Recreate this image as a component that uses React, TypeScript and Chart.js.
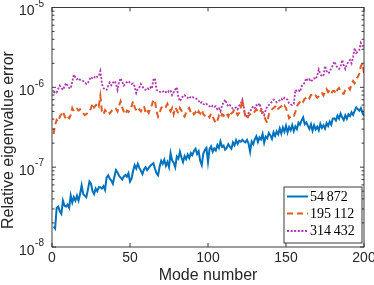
import React, { useEffect, useRef } from "react";
import { Chart, registerables } from "chart.js";

Chart.register(...registerables);

// Mode numbers (x categories)
const modeNumbers: number[] = Array.from({ length: 200 }, (_, i) => i + 1);

// Series: relative eigenvalue error
const err54872: number[] = [
  1.8e-8, 1.7e-8, 3.1e-8, 3.2e-8, 2.8e-8, 2.6e-8, 3.8e-8, 3.3e-8, 3.2e-8, 3.4e-8,
  3.1e-8, 4.4e-8, 3.6e-8, 4.2e-8, 3.8e-8, 4.4e-8, 3.8e-8, 4.6e-8, 5.9e-8, 4.6e-8,
  4.4e-8, 4.2e-8, 5.2e-8, 6.6e-8, 6.2e-8, 5.0e-8, 4.6e-8, 5.4e-8, 5.0e-8, 5.6e-8,
  5.6e-8, 5.4e-8, 5.8e-8, 5.2e-8, 7.4e-8, 7.9e-8, 7.2e-8, 6.8e-8, 6.2e-8, 7.6e-8,
  9.2e-8, 8.6e-8, 7.8e-8, 7.4e-8, 7.0e-8, 7.6e-8, 8.0e-8, 7.6e-8, 8.4e-8, 6.6e-8,
  7.2e-8, 9.0e-8, 10.6e-8, 9.6e-8, 11.0e-8, 9.8e-8, 9.0e-8, 8.2e-8, 9.4e-8, 10.0e-8,
  9.2e-8, 9.8e-8, 10.4e-8, 10.8e-8, 11.2e-8, 9.6e-8, 8.4e-8, 7.9e-8, 10.2e-8, 12.0e-8,
  11.0e-8, 12.4e-8, 10.4e-8, 11.6e-8, 10.0e-8, 15.0e-8, 12.2e-8, 11.4e-8, 10.0e-8, 13.6e-8,
  12.8e-8, 15.6e-8, 13.2e-8, 11.6e-8, 13.8e-8, 12.6e-8, 14.4e-8, 13.0e-8, 15.0e-8, 14.2e-8,
  16.0e-8, 17.0e-8, 14.6e-8, 15.8e-8, 12.0e-8, 10.6e-8, 14.8e-8, 16.4e-8, 17.4e-8, 11.6e-8,
  16.8e-8, 18.2e-8, 15.6e-8, 17.2e-8, 16.2e-8, 19.0e-8, 17.4e-8, 21.0e-8, 18.0e-8, 18.6e-8,
  16.6e-8, 17.4e-8, 19.4e-8, 18.0e-8, 17.0e-8, 20.4e-8, 18.8e-8, 21.8e-8, 19.6e-8, 21.4e-8,
  20.8e-8, 22.0e-8, 21.0e-8, 20.4e-8, 22.0e-8, 19.8e-8, 15.6e-8, 21.0e-8, 19.4e-8, 22.4e-8,
  24.4e-8, 20.6e-8, 23.6e-8, 22.2e-8, 26.0e-8, 20.2e-8, 24.2e-8, 23.0e-8, 26.8e-8, 25.0e-8,
  22.6e-8, 27.4e-8, 24.6e-8, 28.0e-8, 25.8e-8, 30.6e-8, 26.4e-8, 31.4e-8, 27.8e-8, 33.0e-8,
  27.2e-8, 31.8e-8, 29.0e-8, 33.6e-8, 28.4e-8, 32.4e-8, 30.0e-8, 36.0e-8, 34.0e-8, 38.4e-8,
  42.0e-8, 34.6e-8, 36.4e-8, 33.0e-8, 30.2e-8, 34.4e-8, 28.6e-8, 33.6e-8, 29.8e-8, 32.2e-8,
  29.0e-8, 34.8e-8, 31.0e-8, 33.6e-8, 30.4e-8, 35.6e-8, 32.8e-8, 37.2e-8, 34.0e-8, 40.6e-8,
  41.0e-8, 38.4e-8, 44.2e-8, 40.6e-8, 46.8e-8, 42.2e-8, 39.0e-8, 44.6e-8, 40.4e-8, 46.0e-8,
  43.6e-8, 48.8e-8, 45.2e-8, 50.6e-8, 56.0e-8, 53.4e-8, 51.0e-8, 54.8e-8, 48.0e-8, 44.0e-8,
];

const err195112: number[] = [
  2.6e-7, 3.4e-7, 3.9e-7, 3.7e-7, 4.3e-7, 4.6e-7, 5.0e-7, 4.4e-7, 4.0e-7, 4.3e-7,
  4.1e-7, 4.5e-7, 5.5e-7, 5.0e-7, 5.2e-7, 5.4e-7, 5.1e-7, 5.3e-7, 4.9e-7, 4.7e-7,
  4.5e-7, 4.6e-7, 4.8e-7, 4.9e-7, 5.5e-7, 6.3e-7, 5.6e-7, 5.9e-7, 6.3e-7, 5.8e-7,
  7.8e-7, 5.0e-7, 4.6e-7, 5.2e-7, 4.9e-7, 5.1e-7, 4.7e-7, 5.0e-7, 5.3e-7, 5.2e-7,
  5.4e-7, 5.0e-7, 5.9e-7, 6.7e-7, 5.6e-7, 5.0e-7, 4.6e-7, 5.1e-7, 4.9e-7, 5.2e-7,
  5.8e-7, 6.7e-7, 5.6e-7, 5.2e-7, 4.9e-7, 5.3e-7, 5.0e-7, 5.5e-7, 5.8e-7, 4.8e-7,
  5.2e-7, 4.8e-7, 5.4e-7, 6.0e-7, 7.0e-7, 6.8e-7, 5.0e-7, 4.3e-7, 4.8e-7, 5.5e-7,
  5.8e-7, 6.0e-7, 5.7e-7, 6.2e-7, 5.4e-7, 5.0e-7, 5.5e-7, 4.6e-7, 5.6e-7, 5.2e-7,
  4.7e-7, 5.5e-7, 5.1e-7, 4.5e-7, 4.3e-7, 4.9e-7, 5.3e-7, 5.5e-7, 4.8e-7, 5.0e-7,
  4.6e-7, 4.9e-7, 4.5e-7, 5.0e-7, 4.7e-7, 5.2e-7, 4.6e-7, 4.4e-7, 4.3e-7, 4.5e-7,
  4.2e-7, 4.7e-7, 4.3e-7, 3.9e-7, 3.55e-7, 3.8e-7, 4.4e-7, 4.1e-7, 4.6e-7, 4.4e-7,
  4.8e-7, 4.6e-7, 4.3e-7, 5.0e-7, 4.7e-7, 4.9e-7, 5.3e-7, 4.9e-7, 4.5e-7, 4.8e-7,
  5.6e-7, 7.0e-7, 5.2e-7, 4.3e-7, 4.0e-7, 4.4e-7, 4.6e-7, 4.8e-7, 4.7e-7, 5.0e-7,
  5.3e-7, 5.0e-7, 4.8e-7, 5.2e-7, 4.6e-7, 4.3e-7, 3.9e-7, 3.6e-7, 4.6e-7, 5.0e-7,
  5.3e-7, 5.5e-7, 5.7e-7, 6.0e-7, 5.4e-7, 5.6e-7, 5.8e-7, 5.5e-7, 5.9e-7, 5.5e-7,
  4.8e-7, 4.1e-7, 4.3e-7, 4.5e-7, 4.4e-7, 4.9e-7, 5.8e-7, 6.2e-7, 6.6e-7, 7.0e-7,
  6.6e-7, 7.2e-7, 7.4e-7, 7.8e-7, 7.3e-7, 8.0e-7, 8.0e-7, 7.6e-7, 7.9e-7, 7.4e-7,
  7.7e-7, 8.2e-7, 8.5e-7, 7.9e-7, 8.8e-7, 9.5e-7, 8.7e-7, 9.2e-7, 8.4e-7, 9.0e-7,
  9.0e-7, 8.3e-7, 9.4e-7, 9.8e-7, 8.9e-7, 8.5e-7, 8.3e-7, 9.2e-7, 9.6e-7, 10.0e-7,
  9.4e-7, 11.0e-7, 12.0e-7, 11.2e-7, 12.6e-7, 13.5e-7, 14.8e-7, 18.5e-7, 20.0e-7, 15.0e-7,
];

const err314432: number[] = [
  8.5e-7, 8.8e-7, 8.6e-7, 9.6e-7, 10.5e-7, 9.8e-7, 9.3e-7, 10.2e-7, 11.3e-7, 10.4e-7,
  9.8e-7, 9.7e-7, 11.8e-7, 14.4e-7, 13.4e-7, 12.6e-7, 13.0e-7, 12.4e-7, 12.2e-7, 12.0e-7,
  11.6e-7, 11.0e-7, 11.4e-7, 12.5e-7, 13.5e-7, 12.8e-7, 13.2e-7, 14.0e-7, 13.5e-7, 13.9e-7,
  16.0e-7, 11.0e-7, 9.8e-7, 9.3e-7, 9.3e-7, 10.4e-7, 11.5e-7, 10.6e-7, 11.4e-7, 12.0e-7,
  11.2e-7, 9.3e-7, 11.6e-7, 13.0e-7, 11.8e-7, 10.5e-7, 11.0e-7, 11.6e-7, 12.0e-7, 11.4e-7,
  11.0e-7, 11.2e-7, 10.2e-7, 8.5e-7, 9.6e-7, 10.0e-7, 11.0e-7, 10.2e-7, 9.6e-7, 9.3e-7,
  9.8e-7, 9.5e-7, 10.0e-7, 9.6e-7, 12.5e-7, 13.0e-7, 9.3e-7, 9.0e-7, 8.8e-7, 8.6e-7,
  8.8e-7, 9.1e-7, 8.7e-7, 8.5e-7, 9.0e-7, 9.2e-7, 8.0e-7, 8.6e-7, 9.4e-7, 10.0e-7,
  7.6e-7, 6.7e-7, 7.2e-7, 7.8e-7, 8.0e-7, 7.5e-7, 7.4e-7, 7.2e-7, 7.7e-7, 7.6e-7,
  7.4e-7, 7.3e-7, 7.1e-7, 6.8e-7, 6.3e-7, 6.5e-7, 6.2e-7, 6.0e-7, 6.2e-7, 5.9e-7,
  5.8e-7, 5.6e-7, 5.9e-7, 5.7e-7, 5.8e-7, 5.3e-7, 5.5e-7, 5.0e-7, 5.9e-7, 6.5e-7,
  7.0e-7, 6.2e-7, 5.8e-7, 6.0e-7, 5.6e-7, 5.4e-7, 5.5e-7, 5.6e-7, 5.3e-7, 5.9e-7,
  6.2e-7, 7.0e-7, 5.6e-7, 4.3e-7, 4.4e-7, 4.8e-7, 5.0e-7, 5.4e-7, 5.8e-7, 5.5e-7,
  6.0e-7, 5.8e-7, 6.3e-7, 5.5e-7, 5.0e-7, 4.5e-7, 5.2e-7, 5.8e-7, 6.0e-7, 6.3e-7,
  6.6e-7, 7.0e-7, 6.8e-7, 6.5e-7, 6.7e-7, 6.9e-7, 7.2e-7, 6.9e-7, 7.4e-7, 7.2e-7,
  7.0e-7, 6.3e-7, 6.1e-7, 6.0e-7, 6.2e-7, 9.3e-7, 9.0e-7, 9.2e-7, 8.8e-7, 10.3e-7,
  10.8e-7, 11.5e-7, 13.0e-7, 12.2e-7, 12.6e-7, 11.8e-7, 12.4e-7, 13.0e-7, 12.6e-7, 14.0e-7,
  16.7e-7, 14.6e-7, 13.8e-7, 14.0e-7, 18.5e-7, 16.0e-7, 15.0e-7, 15.6e-7, 17.4e-7, 18.8e-7,
  21.0e-7, 19.0e-7, 17.6e-7, 17.0e-7, 18.2e-7, 22.0e-7, 19.0e-7, 17.0e-7, 19.6e-7, 20.6e-7,
  22.0e-7, 20.0e-7, 24.0e-7, 31.0e-7, 27.0e-7, 28.0e-7, 29.5e-7, 36.0e-7, 33.0e-7, 33.0e-7,
];

const seriesNames: string[] = ["54\u2009872", "195\u2009112", "314\u2009432"];
const xTicks: number[] = [0, 50, 100, 150, 200];
const yTickExponents: number[] = [-8, -7, -6, -5];
const xAxisTitle = "Mode number";
const yAxisTitle = "Relative eigenvalue error";

const COLORS = ["#0072BD", "#E05A22", "#B035B0"];
const DASHES: number[][] = [[], [6, 4], [2, 1.6]];
const WIDTHS = [2, 2, 1.8];
const AXIS_COLOR = "#262626";
const SANS = '"Liberation Sans", Arial, Helvetica, sans-serif';
const SERIF = '"Liberation Serif", "Times New Roman", serif';

const axesPlugin = {
  id: "matlabAxes",
  afterDatasetsDraw(chart: any) {
    const { ctx, chartArea: ca, scales } = chart;
    const xs = scales.x;
    const ys = scales.y;
    ctx.save();
    ctx.strokeStyle = AXIS_COLOR;
    ctx.lineWidth = 0.9;
    ctx.setLineDash([]);
    ctx.strokeRect(ca.left, ca.top, ca.right - ca.left, ca.bottom - ca.top);
    ctx.beginPath();
    xTicks.forEach((v) => {
      const px = xs.getPixelForValue(v);
      ctx.moveTo(px, ca.bottom);
      ctx.lineTo(px, ca.bottom - 4);
      ctx.moveTo(px, ca.top);
      ctx.lineTo(px, ca.top + 4);
    });
    for (let e = yTickExponents[0]; e < yTickExponents[yTickExponents.length - 1]; e++) {
      for (let m = 1; m <= 9; m++) {
        const v = m * Math.pow(10, e);
        const py = ys.getPixelForValue(v);
        const len = m === 1 ? 4 : 2.5;
        ctx.moveTo(ca.left, py);
        ctx.lineTo(ca.left + len, py);
        ctx.moveTo(ca.right, py);
        ctx.lineTo(ca.right - len, py);
      }
    }
    ctx.stroke();
    ctx.restore();
  },
  afterDraw(chart: any) {
    const { ctx, chartArea: ca, scales } = chart;
    const xs = scales.x;
    const ys = scales.y;
    ctx.save();
    ctx.fillStyle = AXIS_COLOR;
    ctx.font = `14px ${SANS}`;
    ctx.textAlign = "center";
    ctx.textBaseline = "middle";
    xTicks.forEach((v) => {
      ctx.fillText(String(v), xs.getPixelForValue(v), ca.bottom + 11);
    });
    yTickExponents.forEach((e) => {
      const py = ys.getPixelForValue(Math.pow(10, e));
      const sup = String(e);
      ctx.font = `10px ${SANS}`;
      const supW = ctx.measureText(sup).width;
      const rightX = ca.left - 8;
      ctx.textAlign = "right";
      ctx.textBaseline = "middle";
      ctx.fillText(sup, rightX, py - 3.5);
      ctx.font = `14px ${SANS}`;
      ctx.fillText("10", rightX - supW - 0.5, py + 4);
    });
    ctx.font = `16px ${SANS}`;
    ctx.textAlign = "center";
    ctx.textBaseline = "middle";
    ctx.fillText(xAxisTitle, (ca.left + ca.right) / 2, 275.5);
    ctx.save();
    ctx.translate(8.5, 140);
    ctx.rotate(-Math.PI / 2);
    ctx.fillText(yAxisTitle, 0, 0);
    ctx.restore();

    const lx = 284, ly = 187, lw = 78, lh = 56;
    ctx.fillStyle = "#ffffff";
    ctx.fillRect(lx, ly, lw, lh);
    ctx.strokeStyle = AXIS_COLOR;
    ctx.lineWidth = 0.9;
    ctx.strokeRect(lx, ly, lw, lh);
    const rowY = [196.5, 213.5, 231];
    seriesNames.forEach((name, i) => {
      ctx.beginPath();
      ctx.strokeStyle = COLORS[i];
      ctx.lineWidth = WIDTHS[i];
      ctx.setLineDash(DASHES[i]);
      ctx.moveTo(287, rowY[i]);
      ctx.lineTo(308, rowY[i]);
      ctx.stroke();
      ctx.setLineDash([]);
      ctx.fillStyle = "#000000";
      ctx.font = `14px ${SERIF}`;
      ctx.textAlign = "left";
      ctx.textBaseline = "middle";
      ctx.fillText(name, 310, rowY[i] + 0.5);
    });
    ctx.restore();
  },
};

export default function App() {
  const canvasRef = useRef<HTMLCanvasElement | null>(null);

  useEffect(() => {
    const canvas = canvasRef.current;
    if (!canvas) return;
    const allSeries = [err54872, err195112, err314432];
    const chart = new Chart(canvas, {
      type: "line",
      data: {
        datasets: allSeries.map((vals, i) => ({
          label: seriesNames[i],
          data: vals.map((v, k) => ({ x: modeNumbers[k], y: v })),
          borderColor: COLORS[i],
          borderWidth: WIDTHS[i],
          borderDash: DASHES[i],
          pointRadius: 0,
          tension: 0,
          fill: false,
        })),
      },
      options: {
        responsive: false,
        animation: false,
        events: [],
        layout: { padding: { left: 52, right: 10, top: 7.5, bottom: 38 } },
        plugins: {
          legend: { display: false },
          tooltip: { enabled: false },
          title: { display: false },
        },
        scales: {
          x: { type: "linear", min: 0, max: 200, display: false },
          y: { type: "logarithmic", min: 1e-8, max: 1e-5, display: false },
        },
      },
      plugins: [axesPlugin],
    });
    return () => chart.destroy();
  }, []);

  return (
    <div style={{ position: "fixed", left: 0, top: 0, width: 374, height: 285, background: "#ffffff" }}>
      <canvas ref={canvasRef} width={374} height={285} style={{ display: "block", width: 374, height: 285 }} />
    </div>
  );
}
